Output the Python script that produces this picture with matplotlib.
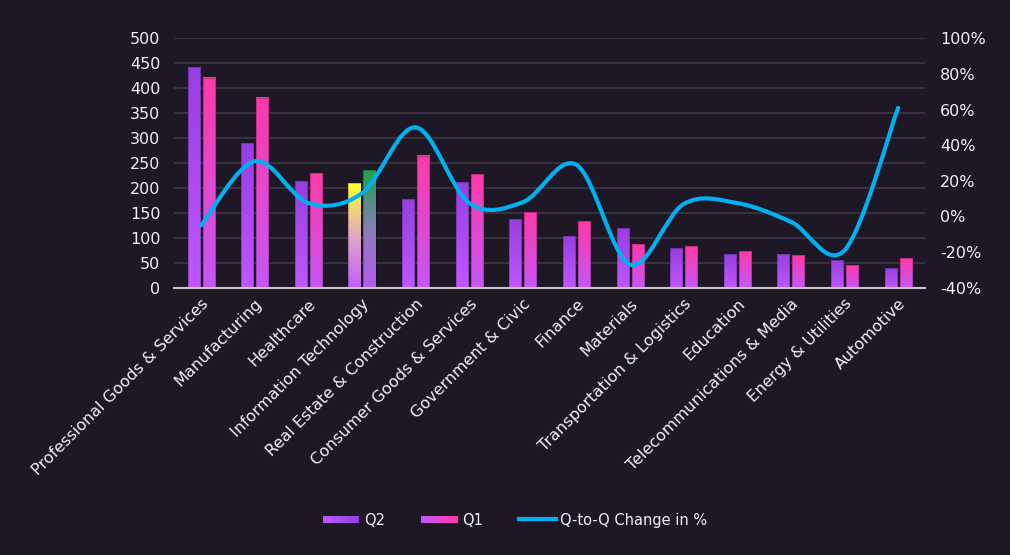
import numpy as np
import matplotlib
matplotlib.use("Agg")
import matplotlib.pyplot as plt
from matplotlib.path import Path
from matplotlib.patches import PathPatch, Rectangle
from matplotlib.colors import to_rgb
from matplotlib.legend_handler import HandlerBase
from matplotlib.lines import Line2D

categories = ["Professional Goods & Services", "Manufacturing", "Healthcare",
              "Information Technology", "Real Estate & Construction",
              "Consumer Goods & Services", "Government & Civic", "Finance",
              "Materials", "Transportation & Logistics", "Education",
              "Telecommunications & Media", "Energy & Utilities", "Automotive"]
q2_values = [443, 290, 214, 209, 177, 211, 138, 103, 120, 79, 68, 68, 55, 39]
q1_values = [421, 381, 230, 235, 265, 227, 152, 133, 87, 84, 73, 66, 46, 60]
change_pct = [-5, 31, 7.5, 13, 50, 7.5, 8, 29, -27, 7, 7.5, -3, -19, 61]
left_ticks = [0, 50, 100, 150, 200, 250, 300, 350, 400, 450, 500]
right_ticks = [-40, -20, 0, 20, 40, 60, 80, 100]

BG = "#1e1726"
TXT = "#f0f0f0"
plt.rcParams['font.family'] = ['DejaVu Sans']

fig = plt.figure(figsize=(10.10, 5.55), dpi=100, facecolor=BG)
ax = fig.add_axes([0.1726, 0.4816, 0.7432, 0.4494])
ax.set_facecolor(BG)
ax2 = ax.twinx()

n = len(categories)
x = np.arange(n)
w = 0.225
off = 0.14

q2_cols = ("#963fe0", "#bf57ff")
q1_cols = ("#ff39a9", "#c457f7")
it_q2 = ("#ffff30", "#e0a8c8", "#c05cff")
it_q1 = ("#1fa34a", "#8a7cb8", "#b85af2")


def grad_img(cols, nrow=64):
    stops = [np.array(to_rgb(c)) for c in cols]
    t = np.linspace(0, 1, nrow)
    seg = len(stops) - 1
    img = np.zeros((nrow, 2, 3))
    for i, tv in enumerate(t):
        k = min(int(tv * seg), seg - 1)
        f = tv * seg - k
        c = stops[k] * (1 - f) + stops[k + 1] * f
        img[i, 0] = c
        img[i, 1] = c * 0.97 + stops[0] * 0.03
    return img


bars2 = ax.bar(x - off, q2_values, w, color="none", zorder=2)
bars1 = ax.bar(x + off, q1_values, w, color="none", zorder=2)
for i, (b2, b1) in enumerate(zip(bars2, bars1)):
    for b, cols in ((b2, it_q2 if i == 3 else q2_cols), (b1, it_q1 if i == 3 else q1_cols)):
        x0, y0 = b.get_x(), b.get_y()
        bw, bh = b.get_width(), b.get_height()
        ax.imshow(grad_img(cols), extent=[x0, x0 + bw, y0, y0 + bh],
                  aspect="auto", origin="upper", zorder=2, interpolation="bilinear")
        ax.add_patch(Rectangle((x0, y0), bw, bh, fill=False, edgecolor="#00000040",
                               linewidth=0.6, zorder=2.1))

ax.set_xlim(-0.5, n - 0.5)
ax.set_ylim(0, 500)
ax.set_yticks(left_ticks)
ax.set_xticks(x)
ax.set_xticklabels(categories, rotation=45, ha="right", rotation_mode="anchor")
ax.grid(axis="y", color="#3d3944", linewidth=1.2, zorder=0)
ax.set_axisbelow(True)
for s in ["top", "right", "left"]:
    ax.spines[s].set_visible(False)
ax.spines["bottom"].set_color("#c8c8c8")
ax.spines["bottom"].set_linewidth(1.5)
ax.tick_params(axis="both", length=0, colors=TXT, labelsize=11.5)
ax.tick_params(axis="x", pad=6)
ax.tick_params(axis="y", pad=10)

# smooth line (Excel-like bezier)
ax2.set_ylim(-40, 100)
ax2.set_yticks(right_ticks)
ax2.set_yticklabels([f"{v}%" for v in right_ticks])
ax2.tick_params(axis="y", length=0, colors=TXT, labelsize=11.5, pad=11)
for s in ax2.spines.values():
    s.set_visible(False)
P = np.column_stack([x, change_pct]).astype(float)
verts = [P[0]]
codes = [Path.MOVETO]
for i in range(n - 1):
    p0 = P[i - 1] if i > 0 else P[i]
    p1, p2 = P[i], P[i + 1]
    p3 = P[i + 2] if i + 2 < n else P[i + 1]
    c1 = p1 + (p2 - p0) / 6
    c2 = p2 - (p3 - p1) / 6
    verts += [c1, c2, p2]
    codes += [Path.CURVE4] * 3
ax2.add_patch(PathPatch(Path(verts, codes), facecolor="none", edgecolor="#00b0f0",
                        linewidth=3.0, capstyle="round", zorder=5))
ax2.set_zorder(ax.get_zorder() + 1)
ax2.patch.set_visible(False)


class GradHandler(HandlerBase):
    def __init__(self, cols):
        super().__init__()
        self.cols = cols

    def create_artists(self, legend, orig, xd, yd, width, height, fontsize, trans):
        arts = []
        c0, c1 = np.array(to_rgb(self.cols[0])), np.array(to_rgb(self.cols[1]))
        k = 16
        h = height * 0.7
        for j in range(k):
            f = j / (k - 1)
            arts.append(Rectangle((xd + width * j / k, yd + (height - h) / 2), width / k * 1.05, h,
                                  facecolor=c0 * (1 - f) + c1 * f, edgecolor="none", transform=trans))
        return arts


h2 = Rectangle((0, 0), 1, 1)
h1 = Rectangle((0, 0), 1, 1)
hl = Line2D([0], [0], color="#00b0f0", linewidth=3.0)
leg = fig.legend([h2, h1, hl], ["Q2", "Q1", "Q-to-Q Change in %"],
                 handler_map={h2: GradHandler(("#bf57ff", "#963fe0")),
                              h1: GradHandler(("#c457f7", "#ff39a9"))},
                 loc="center", bbox_to_anchor=(0.51, 0.063), ncol=3, frameon=False,
                 fontsize=10.5, labelcolor=TXT, handlelength=2.5, handletextpad=0.3,
                 columnspacing=2.5)

fig.savefig("out.png", dpi=100, facecolor=BG)
